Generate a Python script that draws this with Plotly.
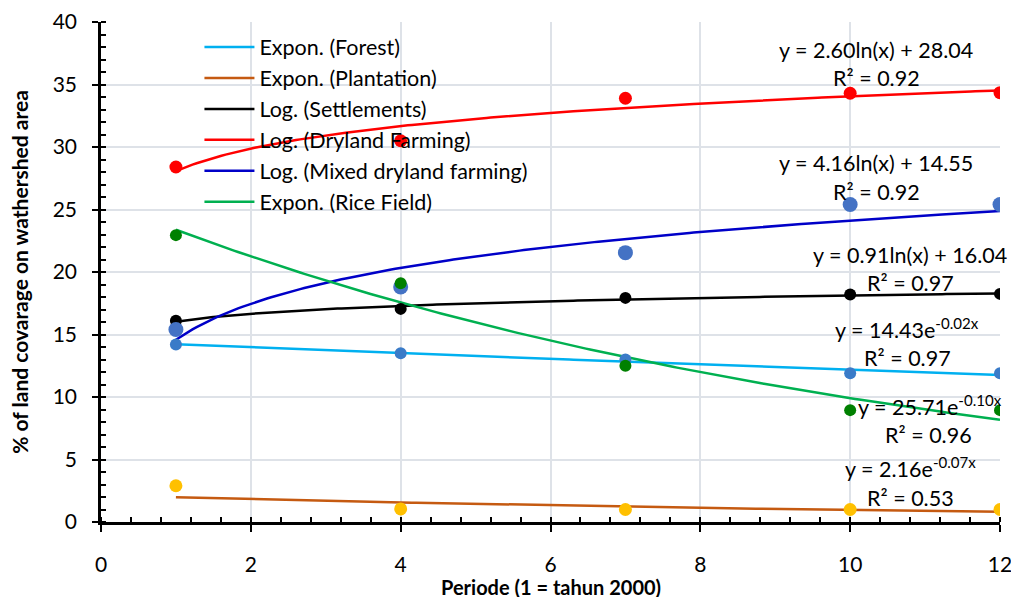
import numpy as np
import plotly.graph_objects as go

# ---- data ----
periods = [1, 4, 7, 10, 12]
forest = [14.2, 13.5, 13.0, 11.9, 11.9]
plantation = [2.9, 1.05, 1.0, 1.0, 1.0]
settlements = [16.1, 17.05, 17.93, 18.2, 18.25]
dryland = [28.4, 30.5, 33.9, 34.3, 34.35]
mixed_dryland = [15.4, 18.8, 21.55, 25.4, 25.4]
rice_field = [22.95, 19.1, 12.5, 8.95, 8.95]

series_names = ["Forest", "Plantation", "Settlements", "Dryland Farming",
                "Mixed dryland farming", "Rice Field"]
trend_types = ["exp", "exp", "log", "log", "log", "exp"]
trend_colors = ["#00B0F0", "#C55A11", "#000000", "#FF0000", "#0000C8", "#00B050"]
marker_colors = ["#3A7BC8", "#FFC000", "#000000", "#FF0000", "#4472C4", "#008000"]
marker_sizes = [12, 13, 12, 13, 15, 12]

eq_texts = ["y = 14.43e<sup>-0.02x</sup>", "y = 2.16e<sup>-0.07x</sup>",
            "y = 0.91ln(x) + 16.04", "y = 2.60ln(x) + 28.04",
            "y = 4.16ln(x) + 14.55", "y = 25.71e<sup>-0.10x</sup>"]
r2_texts = ["R² = 0.97", "R² = 0.53", "R² = 0.97", "R² = 0.92",
            "R² = 0.92", "R² = 0.96"]
# label positions (data coordinates)
eq_pos = [(10.76, 15.5), (10.8, 4.35), (10.8, 21.35), (10.35, 37.8), (10.35, 28.7), (11.07, 9.35)]
r2_pos = [(10.76, 13.1), (10.8, 1.95), (10.8, 19.1), (10.35, 35.5), (10.35, 26.4), (11.05, 6.95)]

x_title = "Periode (1 = tahun 2000)"
y_title = "% of land covarage on wathershed area"

all_series = [forest, plantation, settlements, dryland, mixed_dryland, rice_field]

fig = go.Figure()
x_arr = np.array(periods, dtype=float)
x_line = np.linspace(1, 12, 200)

# trendlines (least squares fits, as the spreadsheet does)
for name, ys, ttype, col in zip(series_names, all_series, trend_types, trend_colors):
    y_arr = np.array(ys, dtype=float)
    if ttype == "exp":
        b, a = np.polyfit(x_arr, np.log(y_arr), 1)
        y_line = np.exp(a) * np.exp(b * x_line)
        label = f"Expon. ({name})"
    else:
        b, a = np.polyfit(np.log(x_arr), y_arr, 1)
        y_line = a + b * np.log(x_line)
        label = f"Log. ({name})"
    fig.add_trace(go.Scatter(x=x_line, y=y_line, mode="lines", name=label,
                             line=dict(color=col, width=2.5), hoverinfo="skip"))

# data markers
for name, ys, mc, ms in zip(series_names, all_series, marker_colors, marker_sizes):
    fig.add_trace(go.Scatter(x=periods, y=ys, mode="markers", name=name,
                             marker=dict(color=mc, size=ms), showlegend=False))

font_family = "Lato, 'Open Sans', sans-serif"
for (ex, ey), t in zip(eq_pos, eq_texts):
    fig.add_annotation(x=ex, y=ey, text=t, showarrow=False, xanchor="center",
                       yanchor="middle", font=dict(size=21.5, color="#000000", family=font_family))
for (rx, ry), t in zip(r2_pos, r2_texts):
    fig.add_annotation(x=rx, y=ry, text=t, showarrow=False, xanchor="center",
                       yanchor="middle", font=dict(size=21.5, color="#000000", family=font_family))

# x axis title placed just below the tick labels
fig.add_annotation(xref="paper", yref="paper", x=0.5, y=-0.13, text=f"<b>{x_title}</b>",
                   showarrow=False, xanchor="center", yanchor="middle",
                   font=dict(size=20, color="#000000", family=font_family))

grid_col = "#DEE2E8"
fig.update_layout(
    width=1011, height=597,
    margin=dict(l=101, r=11, t=22, b=75),
    paper_bgcolor="white", plot_bgcolor="white",
    font=dict(family=font_family, size=21, color="#000000"),
    showlegend=True,
    legend=dict(x=0.1095, y=0.991, xanchor="left", yanchor="top",
                bgcolor="rgba(0,0,0,0)", borderwidth=0,
                font=dict(size=21.5, family=font_family), itemwidth=50),
    xaxis=dict(range=[0, 12], dtick=2, tick0=0, showgrid=True, gridcolor=grid_col,
               gridwidth=1.5, showline=True, linecolor="#000000", linewidth=2.5,
               ticks="outside", ticklen=7, tickwidth=2, tickcolor="#000000",
               minor=dict(dtick=0.4, ticks="inside", ticklen=5, tickwidth=2,
                          tickcolor="#000000", showgrid=False),
               zeroline=False, ticklabelstandoff=15, automargin=False,
               ticklabeloverflow="allow",
               tickfont=dict(size=21, family=font_family)),
    yaxis=dict(range=[0, 40], dtick=5, tick0=0, showgrid=True, gridcolor=grid_col,
               gridwidth=1.5, showline=True, linecolor="#000000", linewidth=2.5,
               ticks="outside", ticklen=6, tickwidth=2, tickcolor="#000000",
               minor=dict(dtick=1, ticks="inside", ticklen=5, tickwidth=2,
                          tickcolor="#000000", showgrid=False),
               zeroline=False, ticklabelstandoff=11, automargin=False,
               ticklabeloverflow="allow",
               tickfont=dict(size=21, family=font_family),
               title=dict(text=f"<b>{y_title}</b>", standoff=19,
                          font=dict(size=21, family=font_family))),
)

fig.write_html("out.html", config={"displayModeBar": False},
               post_script="document.body.style.margin='0';document.body.style.padding='0';")
